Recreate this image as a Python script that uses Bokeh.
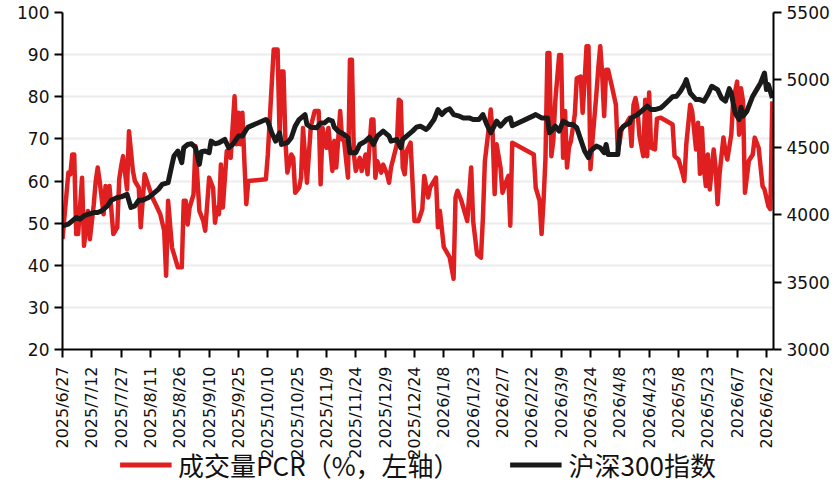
import datetime as dt
from bokeh.plotting import figure
from bokeh.layouts import column
from bokeh.models import (Range1d, LinearAxis, FixedTicker, CustomJSTickFormatter,
                          Legend, LegendItem)
from bokeh.embed import file_html
from bokeh.resources import INLINE

START = "2025-06-27"

tick_labels = ["2025/6/27", "2025/7/12", "2025/7/27", "2025/8/11", "2025/8/26",
               "2025/9/10", "2025/9/25", "2025/10/10", "2025/10/25", "2025/11/9",
               "2025/11/24", "2025/12/9", "2025/12/24", "2026/1/8", "2026/1/23",
               "2026/2/7", "2026/2/22", "2026/3/9", "2026/3/24", "2026/4/8",
               "2026/4/23", "2026/5/8", "2026/5/23", "2026/6/7", "2026/6/22"]

# days after START
pcr_days = [0, 3, 4, 5, 6, 7, 8, 10, 11, 13, 14, 16, 17, 18, 19, 21, 22, 23, 24, 26,
            28, 29, 30, 31, 33, 34, 36, 37, 39, 40, 42, 44, 46, 48, 50, 52, 53, 54, 56, 59,
            61, 62, 63, 64, 65, 67, 68, 70, 72, 73, 75, 77, 78, 79, 80, 81, 82, 84, 86, 88,
            89, 90, 91, 92, 93, 94, 95, 104, 105, 108, 110, 111, 112, 113, 114, 115, 117, 118, 119, 121,
            122, 123, 125, 127, 129, 131, 132, 133, 135, 136, 138, 139, 140, 142, 143, 144, 146, 147, 148, 149,
            150, 152, 153, 155, 156, 158, 159, 160, 161, 163, 164, 166, 167, 168, 171, 172, 173, 174, 175, 176,
            178, 180, 182, 184, 185, 187, 188, 191, 192, 193, 195, 198, 200, 201, 202, 204, 205, 207, 209, 210,
            212, 214, 215, 216, 218, 219, 220, 221, 222, 224, 225, 227, 228, 229, 230, 241, 242, 244, 245, 246,
            247, 248, 249, 250, 251, 252, 254, 255, 256, 257, 258, 259, 260, 262, 263, 265, 266, 267, 268, 269,
            270, 271, 273, 274, 275, 276, 277, 278, 279, 281, 283, 284, 285, 286, 288, 290, 291, 292, 293, 294,
            295, 297, 298, 299, 300, 301, 303, 304, 306, 312, 313, 315, 317, 318, 319, 321, 322, 324, 325, 326,
            327, 328, 329, 330, 331, 333, 334, 335, 336, 338, 339, 340, 342, 343, 345, 346, 347, 348, 349, 351,
            353, 354, 356, 358, 359, 361, 362, 363]
pcr_values = [46.2, 62, 61.6, 66.3, 66.3, 47.4, 47.4, 60.8, 44.6, 52.9, 46.2, 54.5, 60, 63.2, 60, 52.1, 58.8, 54.5, 58.8, 47.4,
              49, 60.4, 63.5, 65.9, 58, 71.8, 62.4, 60, 58.4, 49, 61.6, 58.8, 56, 54.1, 52.1, 48.2, 37.5, 55.3, 44.2, 39.5,
              39.5, 55.3, 55.3, 49.7, 53.7, 56.8, 68.3, 52.9, 50.5, 48.2, 60.8, 58.4, 50.1, 53.7, 52.1, 63.9, 53.7, 67.1, 65.5, 80.1,
              68.7, 76.2, 68.7, 76.2, 64.7, 54.5, 60, 60.4, 66.3, 91.2, 91.2, 71, 86, 86, 69.5, 62, 66.3, 65.5, 57.2, 58.4,
              60.8, 72.6, 59.6, 73, 76.6, 76.6, 59.2, 72.6, 67.9, 72.6, 62.4, 69.5, 63.2, 76.6, 69.9, 69.5, 60.8, 88.8, 88.8, 66.3,
              62.4, 65.5, 62.4, 66.3, 61.6, 74.6, 74.6, 60.8, 64.7, 62, 63.9, 61.6, 59.6, 63.2, 68.7, 79.3, 78.9, 63.2, 61.6, 67.1,
              69.1, 50.5, 50.5, 53.3, 61.2, 56.1, 58.5, 60.8, 49, 52.9, 44.3, 41.9, 36.8, 56.1, 57.7, 55.3, 53.7, 50.5, 63.2, 50.5,
              42.6, 41.8, 51.3, 64.7, 72.6, 77, 71, 56.9, 68.7, 63.2, 57.2, 60, 61.2, 49.4, 69.1, 66.3, 58.4, 55.3, 47.4, 55.3,
              65.5, 90.4, 90.4, 65.9, 69.5, 78.9, 89.9, 89.9, 65.5, 76.6, 63.2, 68, 69.5, 75.8, 84.4, 84.8, 76.2, 83.6, 92, 92,
              62.8, 69.5, 80.5, 86.8, 92, 85.2, 75.4, 86.4, 86.4, 82.4, 78.1, 67.1, 69.5, 72.6, 73.4, 75, 68.3, 78.1, 79.7, 77.3,
              70.9, 65.9, 79.3, 65.9, 81, 67.9, 67.5, 74.8, 75, 73.4, 65.9, 65.1, 62, 60, 68.7, 78.1, 76.6, 67.5, 73.8, 61.7,
              72.6, 63.2, 58.8, 66.3, 58, 67.5, 63.2, 54.5, 61.6, 70.3, 67.1, 65.1, 71, 79, 83.6, 71, 82, 78.9, 57.2, 64.8,
              66.3, 70.3, 67.9, 58.8, 58, 54, 53.3, 78.9]

hs300_days = [0, 3, 5, 7, 9, 11, 13, 16, 18, 20, 23, 25, 28, 30, 33, 35, 37, 39, 41, 44,
              46, 49, 51, 54, 56, 57, 59, 61, 62, 64, 66, 68, 70, 71, 73, 75, 76, 78, 80, 83,
              85, 87, 90, 92, 94, 95, 104, 105, 107, 109, 111, 112, 115, 117, 119, 121, 124, 125, 127, 130,
              132, 134, 136, 138, 139, 141, 144, 146, 147, 150, 152, 155, 157, 159, 161, 164, 167, 168, 171, 173,
              174, 176, 179, 181, 183, 186, 187, 190, 192, 194, 196, 198, 200, 203, 205, 208, 210, 213, 215, 217,
              219, 221, 222, 224, 227, 229, 230, 241, 242, 245, 248, 249, 250, 252, 254, 256, 259, 261, 263, 265,
              267, 269, 270, 273, 275, 277, 278, 279, 282, 284, 285, 287, 290, 291, 294, 296, 299, 301, 303, 306,
              307, 312, 314, 316, 318, 319, 321, 324, 326, 328, 330, 332, 335, 337, 339, 341, 342, 344, 346, 347,
              348, 350, 353, 355, 357, 359, 360, 361, 362, 363]
hs300_values = [3917, 3930, 3954, 3979, 3967, 3991, 4003, 4016, 4016, 4028, 4065, 4107, 4127, 4132, 4151, 4053, 4065, 4107, 4107, 4127,
                4151, 4188, 4225, 4238, 4373, 4435, 4472, 4386, 4497, 4521, 4526, 4497, 4373, 4467, 4472, 4460, 4546, 4526, 4534, 4558,
                4497, 4521, 4583, 4583, 4632, 4650, 4706, 4694, 4608, 4546, 4608, 4521, 4534, 4571, 4657, 4706, 4743, 4669, 4649, 4645,
                4681, 4681, 4706, 4694, 4649, 4620, 4595, 4571, 4460, 4460, 4521, 4546, 4575, 4521, 4583, 4620, 4583, 4546, 4558, 4497,
                4558, 4583, 4620, 4649, 4657, 4632, 4645, 4706, 4780, 4743, 4773, 4785, 4743, 4731, 4718, 4718, 4706, 4706, 4743, 4669,
                4608, 4664, 4694, 4657, 4706, 4718, 4660, 4735, 4743, 4718, 4718, 4608, 4620, 4657, 4620, 4694, 4669, 4669, 4645, 4558,
                4472, 4423, 4472, 4509, 4497, 4460, 4521, 4447, 4447, 4447, 4620, 4657, 4681, 4718, 4743, 4767, 4805, 4780, 4780, 4792,
                4805, 4875, 4879, 4916, 4965, 5002, 4903, 4854, 4854, 4842, 4891, 4953, 4928, 4866, 4842, 4935, 4903, 4755, 4706, 4797,
                4731, 4768, 4879, 4928, 4977, 5051, 4928, 4965, 4916, 4866]

left_ticks = [20, 30, 40, 50, 60, 70, 80, 90, 100]
right_ticks = [3000, 3500, 4000, 4500, 5000, 5500]
series_names = ["成交量PCR（%，左轴）", "沪深300指数"]
series_colors = ["#e02020", "#1a1a1a"]

start = dt.datetime.strptime(START, "%Y-%m-%d")
pcr_x = [start + dt.timedelta(days=d) for d in pcr_days]
hs_x = [start + dt.timedelta(days=d) for d in hs300_days]
epoch = dt.datetime(1970, 1, 1)
tick_ms = [(dt.datetime.strptime(s, "%Y/%m/%d") - epoch).total_seconds() * 1000 for s in tick_labels]

p = figure(frame_width=711, frame_height=337, x_axis_type="datetime",
           x_range=Range1d(start, start + dt.timedelta(days=363.6)),
           y_range=Range1d(20, 100),
           output_backend="svg", toolbar_location=None,
           min_border_left=62, min_border_top=12, min_border_bottom=0, min_border_right=62)
p.extra_y_ranges = {"idx": Range1d(3000, 5500)}
p.outline_line_color = None
p.background_fill_color = "white"
p.border_fill_color = "white"

p.line(pcr_x, pcr_values, line_color=series_colors[0], line_width=4.5, line_join="round")
p.line(hs_x, hs300_values, line_color=series_colors[1], line_width=5, line_join="round",
       y_range_name="idx")

p.xgrid.grid_line_color = None
p.ygrid.grid_line_color = "#ececec"
p.ygrid.grid_line_width = 2

ax = p.xaxis[0]
ax.ticker = FixedTicker(ticks=tick_ms)
ax.formatter = CustomJSTickFormatter(code="""
const d = new Date(tick);
return d.getUTCFullYear() + '/' + (d.getUTCMonth() + 1) + '/' + d.getUTCDate();
""")
ax.major_label_orientation = 1.5707963
ax.major_label_text_font = "DejaVu Sans"
ax.major_label_text_font_size = "16px"
ax.major_label_text_color = "#111111"
ax.major_label_standoff = 9
ax.major_tick_out = 8
ax.major_tick_in = 0
ax.minor_tick_line_color = None
ax.axis_line_width = 2
ax.major_tick_line_width = 2

ly = p.yaxis[0]
ly.ticker = FixedTicker(ticks=left_ticks)
ly.major_label_text_font = "DejaVu Sans"
ly.major_label_text_font_size = "17px"
ly.major_label_text_color = "#111111"
ly.major_tick_out = 8
ly.major_tick_in = 0
ly.minor_tick_line_color = None
ly.axis_line_width = 2
ly.major_tick_line_width = 2
ly.major_label_standoff = 5

ry = LinearAxis(y_range_name="idx", ticker=FixedTicker(ticks=right_ticks))
ry.major_label_text_font = "DejaVu Sans"
ry.major_label_text_font_size = "17px"
ry.major_label_text_color = "#111111"
ry.major_tick_out = 8
ry.major_tick_in = 0
ry.minor_tick_line_color = None
ry.axis_line_width = 2
ry.major_tick_line_width = 2
ry.major_label_standoff = 5
p.add_layout(ry, "right")

# legend strip below the chart (transparent, pulled up slightly)
lg = figure(width=835, height=40, output_backend="svg", toolbar_location=None,
            x_range=Range1d(0, 1), y_range=Range1d(0, 1), min_border=0)
lg.axis.visible = False
lg.grid.visible = False
lg.outline_line_color = None
lg.background_fill_color = None
lg.border_fill_color = None
lg.styles = {"margin-top": "-17px"}
lr1 = lg.line([-5, -4], [-5, -4], line_color=series_colors[0], line_width=5)
lr2 = lg.line([-5, -4], [-5, -4], line_color=series_colors[1], line_width=5)
legend = Legend(items=[LegendItem(label=series_names[0], renderers=[lr1]),
                       LegendItem(label=series_names[1], renderers=[lr2])],
                orientation="horizontal", location="center")
legend.label_text_font = "Noto Sans CJK SC"
legend.label_text_font_size = "26px"
legend.label_text_color = "#111111"
legend.glyph_width = 52
legend.label_standoff = 7
legend.spacing = 50
legend.padding = 0
legend.margin = 0
legend.border_line_color = None
legend.background_fill_alpha = 0
lg.add_layout(legend, "center")

layout = column(p, lg, spacing=0)
open("out.html", "w").write(file_html(layout, INLINE))
